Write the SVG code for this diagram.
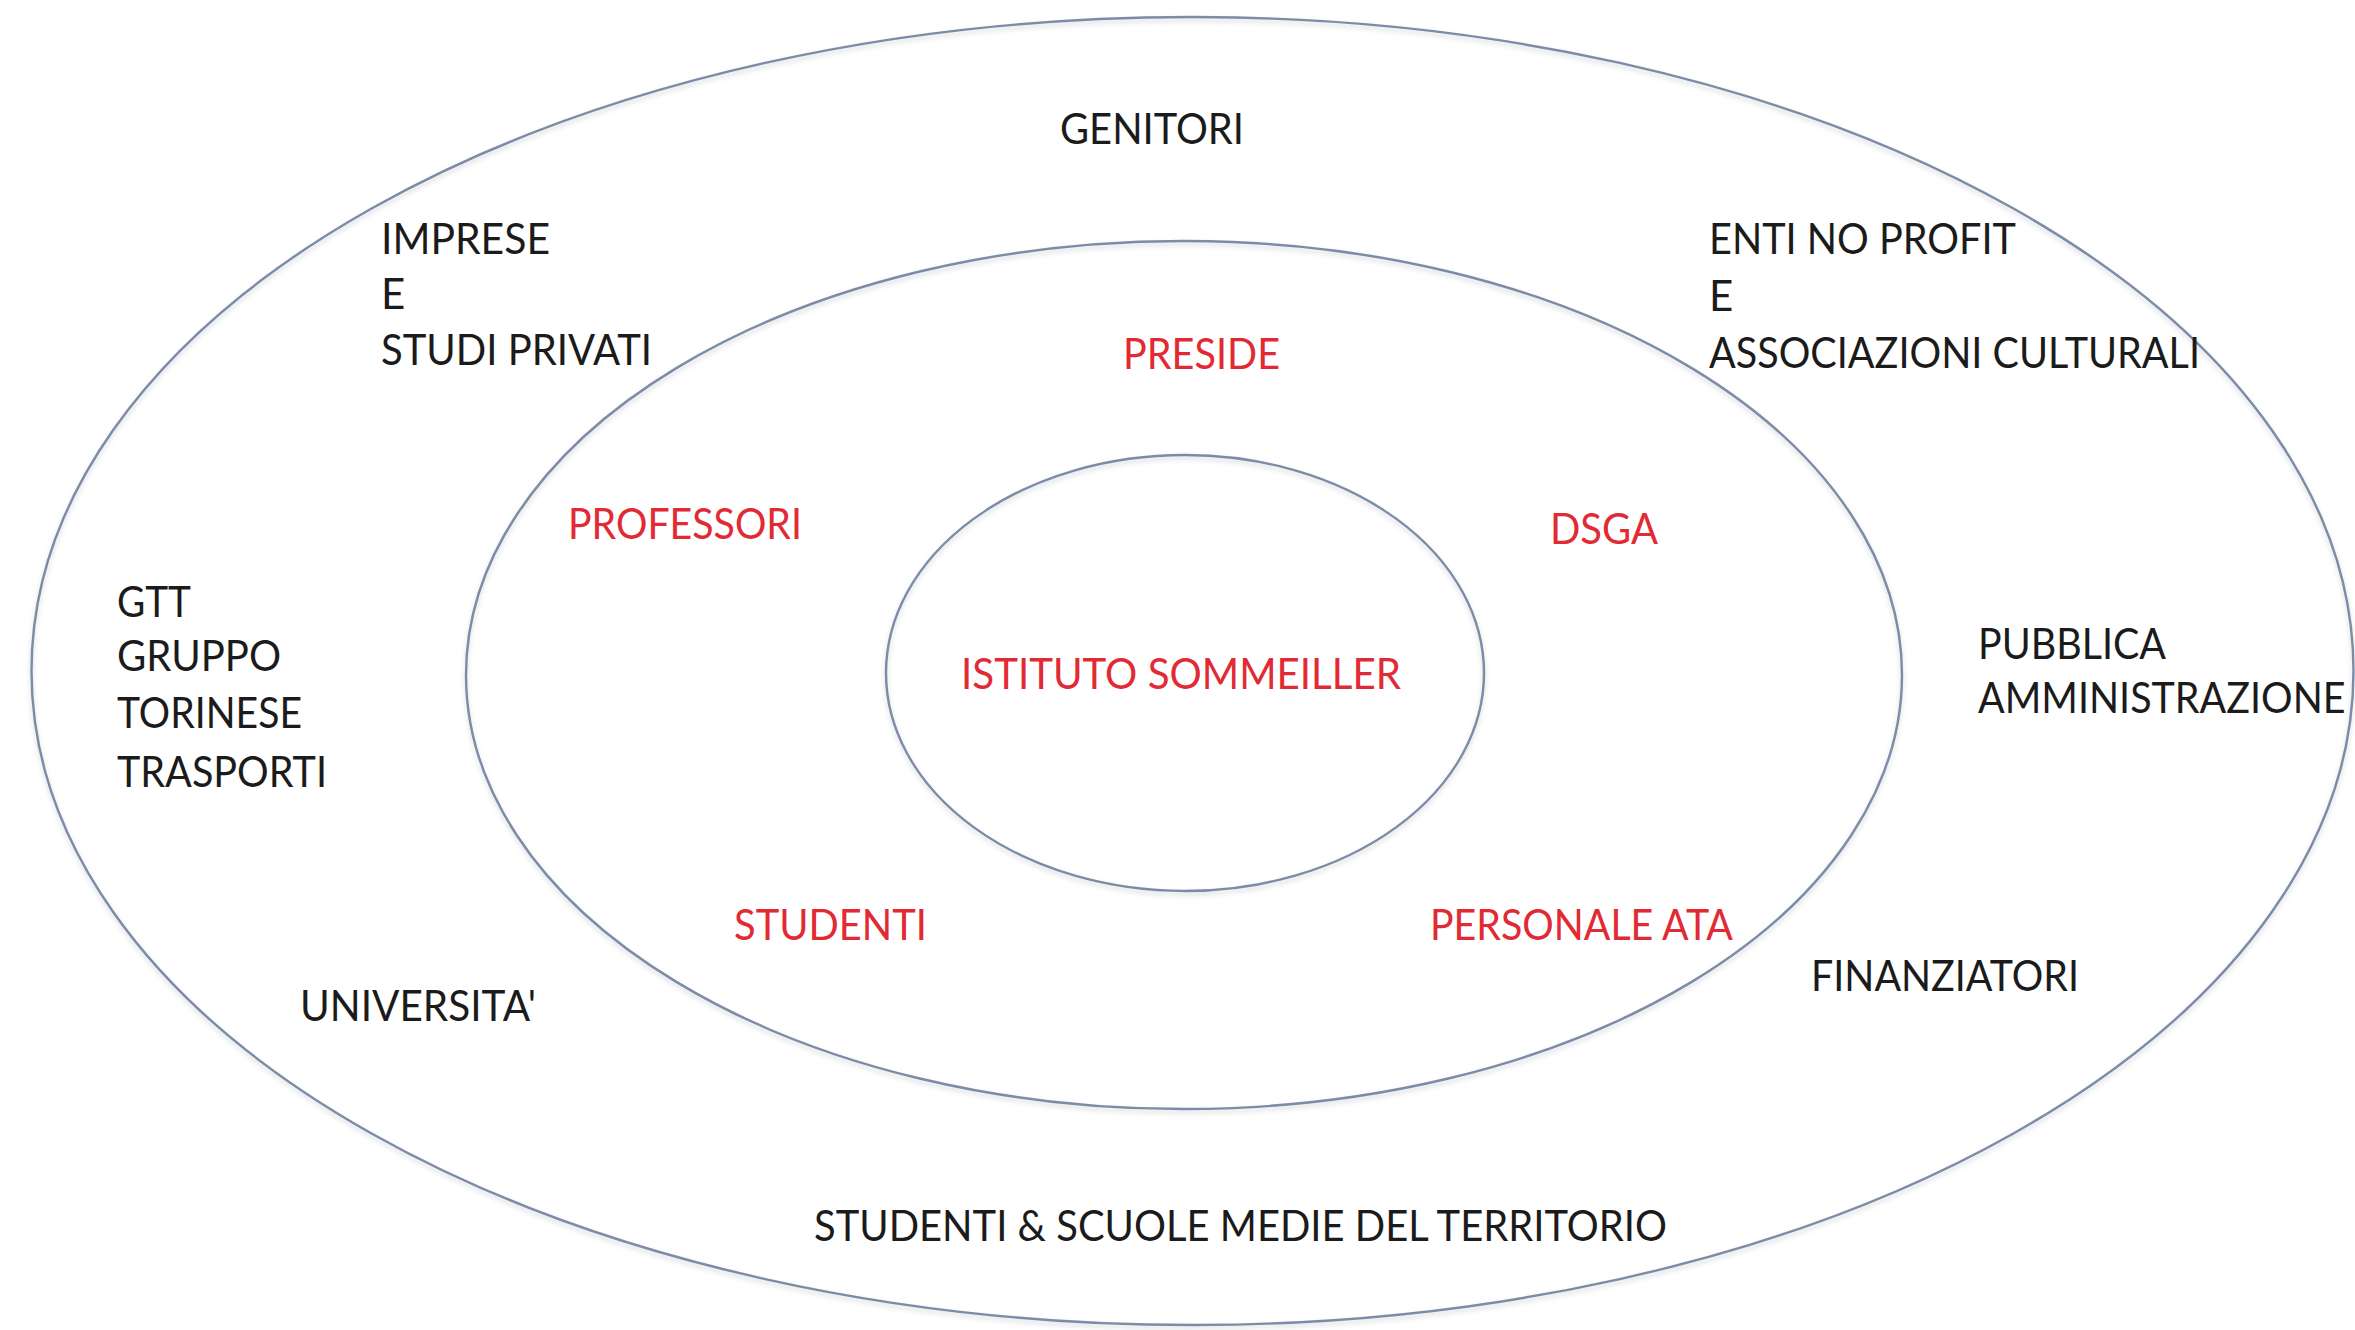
<svg xmlns="http://www.w3.org/2000/svg" width="2355" height="1330" viewBox="0 0 2355 1330">
  <defs>
    <filter id="sh" x="-5%" y="-5%" width="110%" height="115%">
      <feDropShadow dx="0" dy="3" stdDeviation="2.5" flood-color="#9aa0a8" flood-opacity="0.45"/>
    </filter>
  </defs>
  <style>
    .ring { fill: none; stroke: #7d8ca6; stroke-width: 2.4; filter: url(#sh); }
    .t { font-family: Lato, "Liberation Sans", sans-serif; font-size: 42px; fill: #1b1b1b; }
    .r { fill: #e12a34; }
  </style>
  <rect width="2355" height="1330" fill="#ffffff"/>

  <g id="rings">
    <ellipse id="outer-ring" class="ring" cx="1192.5" cy="671" rx="1161" ry="654"/>
    <ellipse id="middle-ring" class="ring" cx="1184" cy="675" rx="718" ry="434"/>
    <ellipse id="inner-ring" class="ring" cx="1185" cy="673" rx="299" ry="218"/>
  </g>

  <g id="node-genitori"><text class="t" x="1060" y="144" textLength="184" lengthAdjust="spacingAndGlyphs">GENITORI</text></g>
  <g id="node-imprese">
    <text class="t" x="381" y="254" textLength="169" lengthAdjust="spacingAndGlyphs">IMPRESE</text>
    <text class="t" x="381" y="309">E</text>
    <text class="t" x="381" y="365" textLength="271" lengthAdjust="spacingAndGlyphs">STUDI PRIVATI</text>
  </g>
  <g id="node-enti">
    <text class="t" x="1709" y="254" textLength="307" lengthAdjust="spacingAndGlyphs">ENTI NO PROFIT</text>
    <text class="t" x="1709" y="311">E</text>
    <text class="t" x="1709" y="368" textLength="491" lengthAdjust="spacingAndGlyphs">ASSOCIAZIONI CULTURALI</text>
  </g>
  <g id="node-preside"><text class="t r" x="1123" y="369" textLength="157" lengthAdjust="spacingAndGlyphs">PRESIDE</text></g>
  <g id="node-professori"><text class="t r" x="568" y="539" textLength="234" lengthAdjust="spacingAndGlyphs">PROFESSORI</text></g>
  <g id="node-dsga"><text class="t r" x="1550" y="544" textLength="108" lengthAdjust="spacingAndGlyphs">DSGA</text></g>
  <g id="node-gtt">
    <text class="t" x="117" y="617" textLength="74" lengthAdjust="spacingAndGlyphs">GTT</text>
    <text class="t" x="117" y="671" textLength="164" lengthAdjust="spacingAndGlyphs">GRUPPO</text>
    <text class="t" x="117" y="728" textLength="185" lengthAdjust="spacingAndGlyphs">TORINESE</text>
    <text class="t" x="117" y="787" textLength="210" lengthAdjust="spacingAndGlyphs">TRASPORTI</text>
  </g>
  <g id="node-pa">
    <text class="t" x="1978" y="659" textLength="188" lengthAdjust="spacingAndGlyphs">PUBBLICA</text>
    <text class="t" transform="translate(1978 713) scale(0.94 1)" x="0" y="0" textLength="391" lengthAdjust="spacingAndGlyphs">AMMINISTRAZIONE</text>
  </g>
  <g id="node-istituto"><text class="t r" x="961" y="689" textLength="440" lengthAdjust="spacingAndGlyphs">ISTITUTO SOMMEILLER</text></g>
  <g id="node-studenti"><text class="t r" x="734" y="940" textLength="193" lengthAdjust="spacingAndGlyphs">STUDENTI</text></g>
  <g id="node-ata"><text class="t r" x="1430" y="940" textLength="303" lengthAdjust="spacingAndGlyphs">PERSONALE ATA</text></g>
  <g id="node-universita"><text class="t" x="300" y="1021" textLength="236" lengthAdjust="spacingAndGlyphs">UNIVERSITA'</text></g>
  <g id="node-finanziatori"><text class="t" x="1811" y="991" textLength="268" lengthAdjust="spacingAndGlyphs">FINANZIATORI</text></g>
  <g id="node-scuole"><text class="t" x="814" y="1241" textLength="853" lengthAdjust="spacingAndGlyphs">STUDENTI &amp; SCUOLE MEDIE DEL TERRITORIO</text></g>
</svg>
